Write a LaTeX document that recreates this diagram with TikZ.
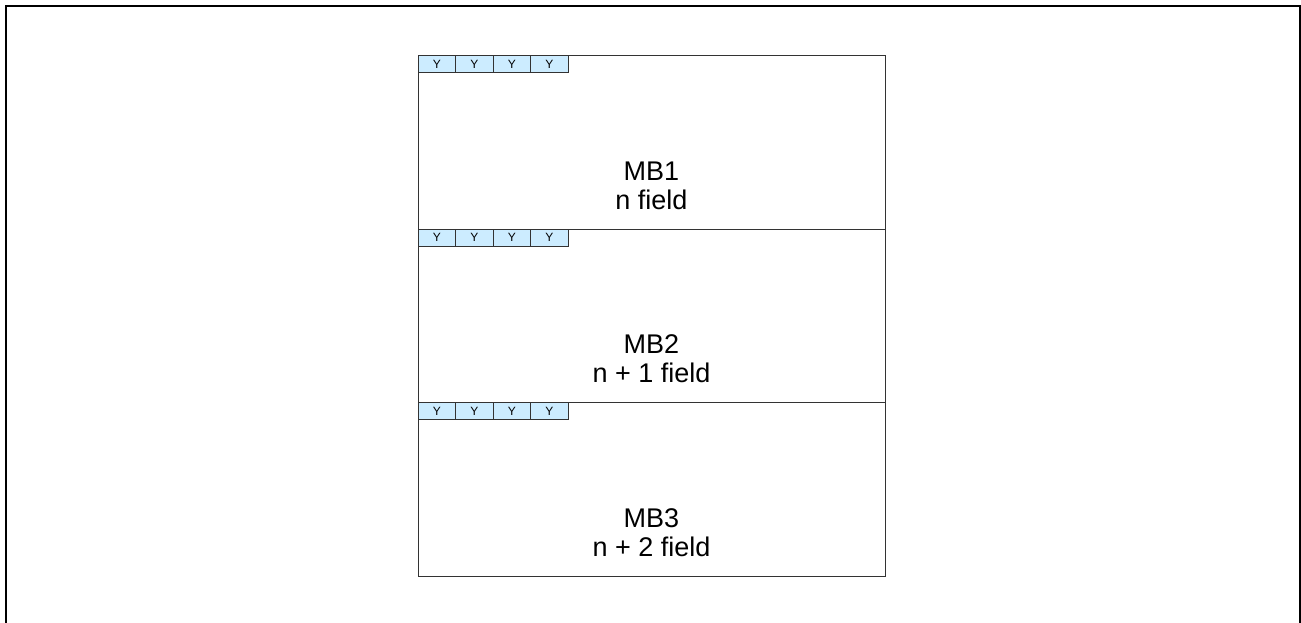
\documentclass[tikz,border=0pt]{standalone}
\usepackage{fontspec}
\setmainfont{Liberation Sans}
\usetikzlibrary{positioning}
\definecolor{ink}{HTML}{000000}
\definecolor{edge}{HTML}{333333}
\definecolor{cellfill}{HTML}{CCECFF}
\tikzset{
  frame/.style={line width=2pt,draw=black},
  rowbox/.style={draw=edge,line width=1pt,minimum width=467pt,
    minimum height=173.7pt,inner sep=0pt,outer sep=0pt},
  ycell/.style={draw=edge,fill=cellfill,line width=1pt,minimum width=37.5pt,
    minimum height=17pt,inner sep=0pt,outer sep=0pt,text=ink,
    font=\fontsize{12}{14}\selectfont},
  rowlabel/.style={font=\fontsize{27}{29}\selectfont,align=center,text=ink}
}

\begin{document}
\begin{tikzpicture}[x=1pt,y=-1pt]
\useasboundingbox (0,0) rectangle (1301,623);

% Outer frame (open at the bottom)
\draw[frame] (6,623) -- (6,6) -- (1299.5,6) -- (1299.5,623);

% Three macroblock rows
\node[rowbox] (row1) at (651.5,142.35) {};
\node[rowbox,below=0pt of row1] (row2) {};
\node[rowbox,below=0pt of row2] (row3) {};

% Labels and the Y cells along the top of each row
\foreach \r/\txt in {1/n field,2/n + 1 field,3/n + 2 field}{
  \node[rowlabel] (lab\r) at ([yshift=-130pt]row\r.north) {MB\r\\\txt};
  \foreach \i in {0,...,3}
    \node[ycell,anchor=north west,xshift=37.5*\i pt] (y\r\i) at (row\r.north west) {Y};
}

\end{tikzpicture}
\end{document}
